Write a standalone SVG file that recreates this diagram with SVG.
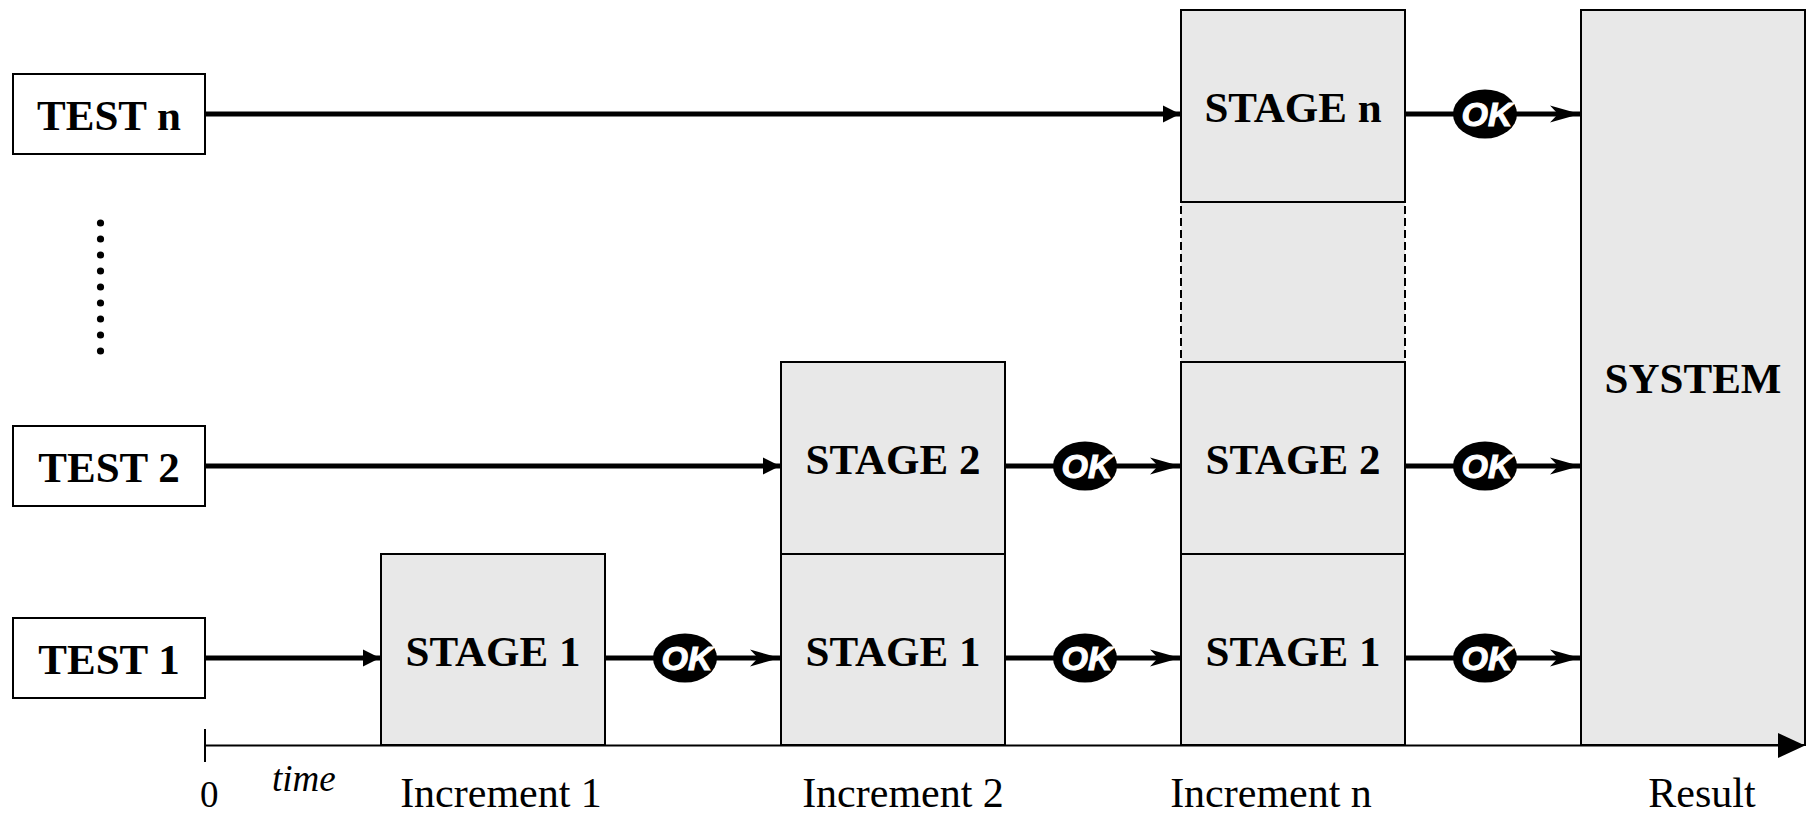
<svg xmlns="http://www.w3.org/2000/svg" width="1809" height="817" viewBox="0 0 1809 817">
  <style>
    .box { fill: #ffffff; stroke: #000; stroke-width: 2; }
    .stage { fill: #e8e8e8; stroke: #000; stroke-width: 2; }
    .dash { fill: #e8e8e8; stroke: #000; stroke-width: 2; stroke-dasharray: 8 4; }
    .lbl { font-family: "Liberation Serif", "Times New Roman", serif; font-weight: bold; font-size: 43px; text-anchor: middle; fill: #000; }
    .axis { font-family: "Liberation Serif", "Times New Roman", serif; font-size: 42px; text-anchor: middle; fill: #000; }
    .small { font-family: "Liberation Serif", "Times New Roman", serif; font-size: 37px; fill: #000; }
    .conn { stroke: #000; stroke-width: 5; fill: none; }
    .ok { fill: #000; }
    .oktxt { font-family: "Liberation Sans", Arial, sans-serif; font-weight: bold; font-style: italic; font-size: 34px; fill: #fff; stroke: #fff; stroke-width: 1; text-anchor: middle; }
  </style>
  <defs>
    <marker id="tri" markerUnits="userSpaceOnUse" markerWidth="20" markerHeight="20" refX="18" refY="10" orient="auto" viewBox="0 0 20 20">
      <path d="M1,1.5 L18,10 L1,18.5 Z" fill="#000"/>
    </marker>
    <marker id="barb" markerUnits="userSpaceOnUse" markerWidth="32" markerHeight="20" refX="30" refY="10" orient="auto" viewBox="0 0 32 20">
      <path d="M0,1.5 L30,10 L0,18.5 L8,10 Z" fill="#000"/>
    </marker>
  </defs>

  <!-- dotted ellipsis -->
  <g id="dots" fill="#000">
    <circle cx="100.5" cy="223" r="3.6"/>
    <circle cx="100.5" cy="239" r="3.6"/>
    <circle cx="100.5" cy="255" r="3.6"/>
    <circle cx="100.5" cy="271" r="3.6"/>
    <circle cx="100.5" cy="287" r="3.6"/>
    <circle cx="100.5" cy="303" r="3.6"/>
    <circle cx="100.5" cy="319" r="3.6"/>
    <circle cx="100.5" cy="335" r="3.6"/>
    <circle cx="100.5" cy="351" r="3.6"/>
  </g>

  <!-- tests -->
  <g id="test-n">
    <rect class="box" x="13" y="74" width="192" height="80"/>
    <text class="lbl" x="109" y="130">TEST n</text>
  </g>
  <g id="test-2">
    <rect class="box" x="13" y="426" width="192" height="80"/>
    <text class="lbl" x="109" y="482">TEST 2</text>
  </g>
  <g id="test-1">
    <rect class="box" x="13" y="618" width="192" height="80"/>
    <text class="lbl" x="109" y="674">TEST 1</text>
  </g>

  <!-- increment 1 -->
  <g id="inc1-stage1">
    <rect class="stage" x="381" y="554" width="224" height="191"/>
    <text class="lbl" x="493" y="666">STAGE 1</text>
  </g>

  <!-- increment 2 -->
  <g id="inc2-stage2">
    <rect class="stage" x="781" y="362" width="224" height="192"/>
    <text class="lbl" x="893" y="474">STAGE 2</text>
  </g>
  <g id="inc2-stage1">
    <rect class="stage" x="781" y="554" width="224" height="191"/>
    <text class="lbl" x="893" y="666">STAGE 1</text>
  </g>

  <!-- increment n -->
  <g id="incn-gap">
    <rect class="dash" x="1181" y="202" width="224" height="160"/>
  </g>
  <g id="incn-stagen">
    <rect class="stage" x="1181" y="10" width="224" height="192"/>
    <text class="lbl" x="1293" y="122">STAGE n</text>
  </g>
  <g id="incn-stage2">
    <rect class="stage" x="1181" y="362" width="224" height="192"/>
    <text class="lbl" x="1293" y="474">STAGE 2</text>
  </g>
  <g id="incn-stage1">
    <rect class="stage" x="1181" y="554" width="224" height="191"/>
    <text class="lbl" x="1293" y="666">STAGE 1</text>
  </g>

  <!-- system -->
  <g id="system">
    <rect class="stage" x="1581" y="10" width="224" height="735"/>
    <text class="lbl" x="1693" y="393">SYSTEM</text>
  </g>

  <!-- time axis -->
  <g id="axis">
    <line x1="205" y1="745.5" x2="1780" y2="745.5" stroke="#000" stroke-width="2"/>
    <polygon points="1778,733 1805,745.5 1778,758" fill="#000"/>
    <line x1="205" y1="729" x2="205" y2="762" stroke="#000" stroke-width="2"/>
    <text class="small" x="200" y="807">0</text>
    <text class="small" x="272" y="791" font-style="italic">time</text>
    <text class="axis" x="501" y="807">Increment 1</text>
    <text class="axis" x="903" y="807">Increment 2</text>
    <text class="axis" x="1271" y="807">Increment n</text>
    <text class="axis" x="1702" y="807">Result</text>
  </g>

  <!-- connectors -->
  <g id="connectors">
    <line class="conn" x1="206" y1="114" x2="1180" y2="114" marker-end="url(#tri)"/>
    <line class="conn" x1="206" y1="466" x2="780" y2="466" marker-end="url(#tri)"/>
    <line class="conn" x1="206" y1="658" x2="380" y2="658" marker-end="url(#tri)"/>

    <line class="conn" x1="606" y1="658" x2="780" y2="658" marker-end="url(#barb)"/>
    <line class="conn" x1="1006" y1="658" x2="1180" y2="658" marker-end="url(#barb)"/>
    <line class="conn" x1="1406" y1="658" x2="1580" y2="658" marker-end="url(#barb)"/>
    <line class="conn" x1="1006" y1="466" x2="1180" y2="466" marker-end="url(#barb)"/>
    <line class="conn" x1="1406" y1="466" x2="1580" y2="466" marker-end="url(#barb)"/>
    <line class="conn" x1="1406" y1="114" x2="1580" y2="114" marker-end="url(#barb)"/>

    <g id="ok-labels">
      <ellipse class="ok" cx="685" cy="658" rx="32" ry="24.5"/>
      <text class="oktxt" x="687" y="670">OK</text>
      <ellipse class="ok" cx="1085" cy="658" rx="32" ry="24.5"/>
      <text class="oktxt" x="1087" y="670">OK</text>
      <ellipse class="ok" cx="1485" cy="658" rx="32" ry="24.5"/>
      <text class="oktxt" x="1487" y="670">OK</text>
      <ellipse class="ok" cx="1085" cy="466" rx="32" ry="24.5"/>
      <text class="oktxt" x="1087" y="478">OK</text>
      <ellipse class="ok" cx="1485" cy="466" rx="32" ry="24.5"/>
      <text class="oktxt" x="1487" y="478">OK</text>
      <ellipse class="ok" cx="1485" cy="114" rx="32" ry="24.5"/>
      <text class="oktxt" x="1487" y="126">OK</text>
    </g>
  </g>
</svg>
